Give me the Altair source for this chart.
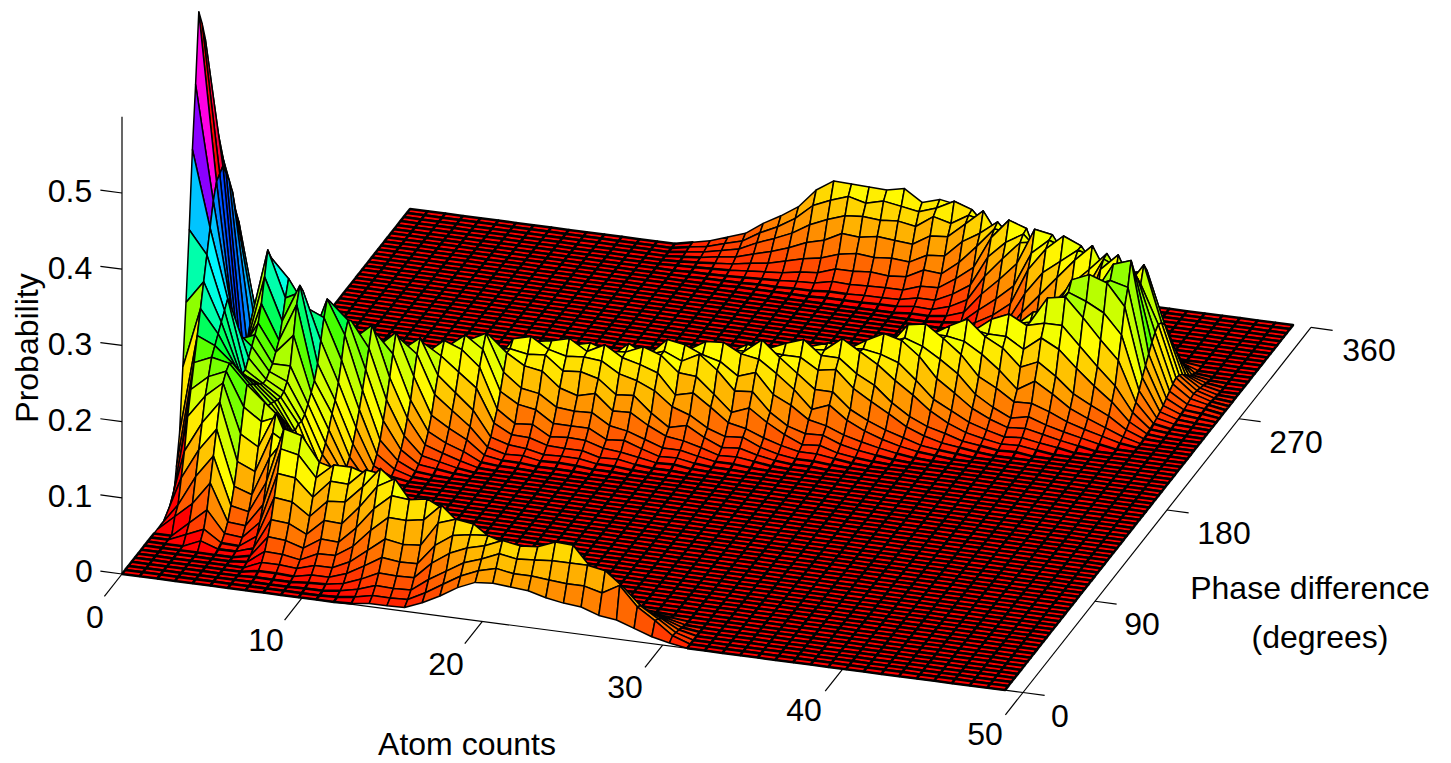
import altair as alt
import pandas as pd

alt.data_transformers.disable_max_rows()

# Probability x 1000: {atom-grid column: (first phase row, values)}. Phase row = degrees / 4.
NEAR_RIDGE = {
 0: (15, [3,10,50,90,170,250,340,440,520,610,590,565,500,450,400,385,330,280,220,170,120,80,50,30,15,10]),
 1: (11, [20,30,60,90,130,160,190,220,250,280,310,340,370,390,395,400,385,370,350,320,300,260,220,170,130,90,60,35,20,10]),
 2: (9, [10,20,40,70,100,130,160,180,200,210,220,230,240,250,235,200,180,160,150,160,180,190,180,160,130,100,75,50,30,18,8]),
 3: (8, [10,20,40,70,100,130,160,180,190,195,190,180,170,160,160,170,180,190,200,220,250,280,265,240,200,160,120,85,55,35,20,10]),
 4: (8, [2,5,12,22,38,58,85,116,146,170,165,160,155,150,145,145,150,155,165,175,195,220,240,225,195,160,120,85,55,30,15,6]),
 5: (18, [140,138,135,132,130,132,140,155,190,225,245,232,205,150,105,60,30,12,5]),
 6: (16, [140,130,120,110,100,95,98,96,100,108,118,128,145,170,195,214,205,175,135,92,52,26,11,4]),
 7: (13, [133,115,100,88,75,65,55,50,45,44,44,50,60,72,88,100,118,142,170,184,178,150,112,78,46,22,9,3]),
 8: (13, [128,110,92,75,60,48,40,32,28,25,22,20,22,26,34,46,62,80,100,122,145,170,155,132,100,68,40,19,8,3]),
 9: (26, [2,4,8,15,25,38,58,80,104,130,153,140,120,86,56,34,16,7,2]),
 10: (28, [1,4,8,14,23,36,54,72,98,122,138,126,108,78,54,30,15,6,2]),
 11: (30, [1,3,7,13,22,34,50,72,92,112,127,114,102,72,50,28,14,6,2]),
 12: (31, [1,4,8,14,22,36,54,72,94,118,132,120,106,76,52,30,14,6,2]),
 13: (32, [1,3,7,14,24,36,52,76,98,116,132,124,100,78,52,32,15,6,2]),
 14: (34, [1,3,7,12,20,33,46,64,84,104,104,112,90,68,46,28,13,6,2]),
 15: (35, [1,3,6,13,21,30,50,66,90,100,118,106,92,72,48,28,14,6,2]),
 16: (35, [1,3,7,11,20,32,46,62,86,102,104,110,88,66,46,26,13,5,2]),
 17: (36, [1,3,6,13,19,31,47,67,84,98,116,102,90,70,44,28,12,6,2]),
 18: (36, [1,4,7,12,21,31,45,60,86,100,102,108,88,64,46,26,13,5,2]),
 19: (36, [1,3,7,12,20,31,46,66,80,98,114,100,88,68,42,28,12,6,2]),
 20: (37, [1,3,6,13,19,32,46,62,84,100,102,108,86,66,44,26,13,5,2]),
 21: (37, [1,3,7,11,21,28,47,64,78,94,112,96,92,62,46,24,12,6,2]),
 22: (38, [1,3,7,13,20,33,44,68,86,104,104,114,86,70,44,28,13,5,2]),
 23: (39, [1,3,6,12,22,28,50,60,84,94,110,98,92,64,46,26,12,6,2]),
 24: (39, [1,4,7,12,19,34,42,66,82,106,100,112,88,66,44,28,13,5,2]),
 25: (40, [1,3,7,13,21,28,50,62,88,94,114,100,90,70,46,26,12,6,2]),
 26: (41, [1,3,6,11,20,33,41,64,78,102,100,104,84,62,44,26,13,5,2]),
 27: (41, [1,3,7,13,22,28,50,66,86,98,118,98,96,68,46,28,12,6,2]),
 28: (42, [1,4,7,12,19,34,42,60,82,98,96,106,80,64,42,24,12,5,2]),
 29: (43, [1,3,6,12,21,27,49,64,80,96,114,96,94,64,46,26,13,6,2]),
 30: (44, [1,3,7,11,20,33,41,62,82,96,98,102,82,66,42,26,12,5,2]),
 31: (44, [1,3,7,13,21,28,50,62,86,96,116,98,92,68,46,26,13,6,2]),
 32: (45, [1,4,6,12,19,33,42,64,78,102,100,106,86,62,44,28,12,5,2]),
 33: (46, [1,3,7,13,22,30,50,66,88,96,118,100,94,70,46,26,13,6,2]),
 34: (47, [1,4,8,14,21,37,46,70,88,112,110,122,92,72,50,30,14,6,2]),
 35: (48, [1,4,8,14,23,31,54,68,94,102,126,108,102,76,48,30,15,6,2]),
 36: (49, [1,4,7,14,21,36,46,68,88,110,108,116,92,70,50,28,14,6,2]),
 37: (50, [2,4,8,15,23,34,52,72,92,104,128,110,102,78,50,32,15,7,2]),
 38: (51, [2,5,8,14,22,35,48,66,90,108,106,120,92,72,50,28,14,6,2]),
 39: (52, [2,5,9,15,24,34,54,72,96,106,130,112,104,78,52,32,15,7,3]),
 40: (53, [2,5,9,16,23,39,50,74,92,118,117,125,100,76,54,30,16,7,3]),
 41: (53, [3,6,11,18,28,40,64,84,110,124,152,130,124,90,62,36,18,8,3]),
 42: (54, [3,7,13,20,32,50,68,98,124,156,157,168,130,100,70,42,20,9,4]),
 43: (55, [4,8,14,22,34,48,76,100,132,148,178,158,146,108,72,44,22,10,4]),
 44: (56, [4,9,15,24,36,56,76,106,136,170,168,184,144,110,78,46,22,10,4]),
 45: (57, [4,9,15,25,38,54,82,110,142,162,192,172,158,116,84,60,40,20,8]),
 46: (58, [3,6,10,15,22,30,40,52,62,72,82,90,95,92,84,70,52,34,18,8,3]),
 47: (60, [1,2,3,5,7,10,13,17,21,25,28,26,22,16,10,5,2]),
 48: (62, [1,1,2,3,4,5,7,9,10,9,7,5,3,1]),
 49: (64, [1,1,2,3,4,4,3,2,1]),
}
BACK_RIDGE = {
 45: (63, [3,8,20,36,60,86,118,145,165,152,118,74,36,13,3]),
 44: (64, [3,8,18,33,54,78,108,132,146,142,108,68,33,12,3]),
 43: (66, [3,7,19,32,55,76,110,126,156,132,110,66,34,11,3]),
 42: (67, [3,8,17,34,52,78,105,134,142,144,104,68,32,12,3]),
 41: (69, [3,7,18,30,52,72,100,120,146,124,100,62,32,11,3]),
 40: (70, [3,7,16,31,48,74,98,124,132,132,100,62,30,11,3]),
 39: (71, [3,7,17,29,50,70,98,114,142,120,96,62,30,10,3]),
 38: (72, [3,6,16,30,48,72,96,122,128,130,98,60,30,11,3]),
 37: (73, [3,7,15,28,46,66,92,108,134,112,92,58,28,10,3]),
 36: (75, [2,6,15,26,44,62,86,108,114,116,86,54,26,10,2]),
 35: (76, [2,6,14,26,42,62,84,100,124,102,84,52,26,10,2]),
 34: (77, [2,5,13,24,40,58,78,98,104,108,80,50,24,8]),
 33: (79, [2,5,13,24,38,56,78,90,114,94,78,48]),
 32: (80, [2,5,12,23,38,54,76,94,100,102,90]),
 31: (81, [2,5,12,23,36,54,74,86,110,100]),
 30: (81, [2,6,12,22,38,52,72,92,98,104]),
 29: (82, [3,7,14,26,40,58,76,90,97]),
 28: (82, [3,6,14,24,42,60,80,94,112]),
 27: (82, [2,6,13,26,40,62,78,98,107]),
 26: (82, [2,5,12,24,42,58,80,92,108]),
 25: (82, [2,5,13,24,38,60,78,98,109]),
 24: (82, [1,3,8,16,30,48,70,90,110]),
 23: (82, [1,3,7,14,26,42,60,80,95]),
 22: (82, [1,2,5,10,20,32,46,60,70]),
 21: (82, [1,2,4,8,14,24,36,46,55]),
 20: (82, [1,1,3,6,11,18,27,35,42]),
 19: (82, [0,1,2,4,7,11,16,21,26]),
 18: (82, [0,1,1,3,5,8,11,15,18]),
 17: (82, [0,0,1,2,3,4,6,8,10]),
 16: (82, [0,0,0,1,1,2,3,4,5]),
}
FRONT_RIDGE = {
 5: (8, [2,4,10,20,33,50,75,102,130,150]),
 6: (6, [2,5,10,20,33,51,75,102,129,150]),
 7: (3, [1,4,10,19,33,50,74,100,127,148]),
 8: (3, [1,4,10,18,31,48,71,97,122,142]),
 9: (3, [1,3,8,14,24,37,55,75,95,110,99,77,50,28,11,3]),
 10: (2, [1,3,8,15,25,39,58,78,99,115,104,80,52,29,12,3]),
 11: (2, [1,4,8,15,26,38,57,80,98,115,102,82,50,30,11,3]),
 12: (1, [1,4,8,16,26,41,60,82,103,120,108,84,54,30,12,4]),
 13: (0, [1,4,9,17,29,44,65,88,112,130,117,91,58,32,13,4]),
 14: (0, [4,9,17,28,43,62,85,108,125,112,88,56,31,12,4]),
 15: (0, [4,9,16,27,40,58,84,106,95,74,48,26,11,3]),
 16: (0, [5,10,17,28,41,60,88,110,99,77,50,27,11,3]),
 17: (0, [14,22,34,50,68,92,110,99,77,50,27,11,3]),
 18: (0, [26,36,48,66,84,100,90,70,45,25,10,3]),
 19: (0, [40,50,62,76,88,97,87,68,44,24,10,3]),
 20: (0, [50,60,70,82,90,81,63,40,22,9,3]),
 21: (0, [52,66,80,92,83,64,41,23,9,3]),
 22: (0, [50,62,76,88,79,62,40,22,9,3]),
 23: (0, [48,62,78,90,81,63,40,22,9,3]),
 24: (0, [42,60,80,99,89,69,44,25,10,3]),
 25: (0, [38,58,80,98,88,68,44,24,10,3]),
 26: (0, [36,58,80,72,56,36,20,8,2]),
 27: (0, [28,52,76,68,53,34,19,8,2]),
 28: (0, [25,65,58,45,29,16,6,2]),
 29: (0, [17,40,36,28,18,10,4,1]),
 30: (0, [9,25,22,17,11,6,2]),
 31: (0, [4,8,7,5,3,1]),
}
PHASE_STEP = 4
ATOM_STEP = 0.98
COLUMNS = 51
ROWS = 91
X_TICKS = [0, 10, 20, 30, 40, 50]
Y_TICKS = [0, 90, 180, 270, 360]
Z_TICKS = [0, 0.1, 0.2, 0.3, 0.4, 0.5]
HSV_COLORS = ["#ff0000", "#ffff00", "#00ff00", "#00ffff", "#0000ff", "#ff00ff", "#ff0000"]
P_MAX = 0.61

FONT = "Liberation Sans"
FS = 32


def proj(n, phi, p=0.0):
    """View of the 3-D axes box on the page (orthographic)."""
    return (122 + 18.02 * n + 0.8 * phi,
            574 + 2.37 * n - 1.014 * phi - 762 * p)


Z = [[0.0] * ROWS for _ in range(COLUMNS)]
for table in (NEAR_RIDGE, BACK_RIDGE, FRONT_RIDGE):
    for col, (start, vals) in table.items():
        for j, v in enumerate(vals):
            if start + j < ROWS:
                Z[col][start + j] = max(Z[col][start + j], v / 1000)

rows = []
qid = 0
for i in range(ROWS - 2, -1, -1):          # far to near
    for k in range(COLUMNS - 1):
        corners = [(k, i), (k + 1, i), (k + 1, i + 1), (k, i + 1), (k, i)]
        tall = max(Z[a][b] for a, b in corners)
        for o, (a, b) in enumerate(corners):
            x, y = proj(a * ATOM_STEP, b * PHASE_STEP, Z[a][b])
            rows.append({"id": qid, "o": o, "x": round(x, 1), "y": round(y, 1), "p": Z[k][i], "tall": tall})
        qid += 1
surface = pd.DataFrame(rows)

xs = alt.Scale(domain=[8, 1443], nice=False, zero=False)
ys = alt.Scale(domain=[763, 8], nice=False, zero=False)
X = alt.X("x:Q", scale=xs, axis=None)
Y = alt.Y("y:Q", scale=ys, axis=None)
stops = [P_MAX * j / 6 for j in range(7)]

surf = alt.Chart(surface).mark_line(stroke="black", strokeJoin="round").encode(
    x=X, y=Y, detail="id:N", order="o:Q",
    fill=alt.Fill("p:Q", scale=alt.Scale(domain=stops, range=HSV_COLORS), legend=None),
    strokeWidth=alt.condition("datum.tall < 0.006", alt.value(2.5), alt.value(1.5)),
)

seg = []
sid = 0


def add_seg(a, b):
    global sid
    seg.append({"id": sid, "o": 0, "x": a[0], "y": a[1]})
    seg.append({"id": sid, "o": 1, "x": b[0], "y": b[1]})
    sid += 1


add_seg(proj(0, 0), proj(50, 0))
add_seg(proj(50, 0), proj(50, 360))
add_seg(proj(0, 0), proj(0, 0, 0.6))
labels = []
for t in X_TICKS:
    add_seg(proj(t, 0), proj(t, -22))
for t in Y_TICKS:
    add_seg(proj(50, t), proj(51.2, t))
for t in Z_TICKS:
    add_seg(proj(0, 0, t), proj(-1.2, 0, t))

x_label_pos = [(95, 618), (266, 641), (446, 665), (625, 688), (804, 711), (985, 735)]
y_label_pos = [(1060, 717), (1142, 625), (1224, 534), (1296, 443), (1369, 351)]
z_label_pos = [(84, 572), (70, 497), (70, 421), (70, 345), (70, 269), (70, 192)]
for t, (a, b) in zip(X_TICKS, x_label_pos):
    labels.append({"t": str(t), "x": a, "y": b})
for t, (a, b) in zip(Y_TICKS, y_label_pos):
    labels.append({"t": str(t), "x": a, "y": b})
for t, (a, b) in zip(Z_TICKS, z_label_pos):
    labels.append({"t": str(t), "x": a, "y": b})
labels.append({"t": "Atom counts", "x": 467, "y": 745})
labels.append({"t": "Phase difference", "x": 1310, "y": 589})
labels.append({"t": "(degrees)", "x": 1320, "y": 638})

axes = alt.Chart(pd.DataFrame(seg)).mark_line(stroke="black", strokeWidth=1.2).encode(
    x=X, y=Y, detail="id:N", order="o:Q")
text = alt.Chart(pd.DataFrame(labels)).mark_text(
    font=FONT, fontSize=FS, align="center", baseline="middle", color="black"
).encode(x=X, y=Y, text="t:N")
ylab = alt.Chart(pd.DataFrame([{"t": "Probability", "x": 28, "y": 348}])).mark_text(
    font=FONT, fontSize=FS, align="center", baseline="middle", angle=270, color="black"
).encode(x=X, y=Y, text="t:N")

chart = alt.layer(surf, axes, text, ylab).properties(
    width=1435, height=755, padding=0,
    autosize=alt.AutoSizeParams(type="none"),
).configure_view(stroke=None)

chart.save("out.html", embed_options={"renderer": "svg", "actions": False})
